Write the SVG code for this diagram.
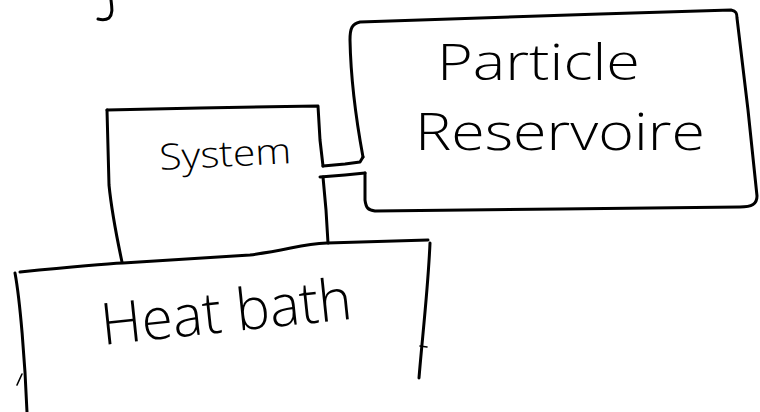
<svg xmlns="http://www.w3.org/2000/svg" width="760" height="412" viewBox="0 0 760 412">
  <style>
    .ink { fill: none; stroke: #000; stroke-width: 3; stroke-linecap: round; stroke-linejoin: round; }
    .fine { fill: none; stroke: #000; stroke-width: 1.6; stroke-linecap: round; }
    .hand { font-family: "Open Sans", "Liberation Sans", sans-serif; font-weight: 300; fill: #000; }
  </style>
  <rect width="760" height="412" fill="#fff"/>

  <!-- stray pen stroke at the top -->
  <path class="ink" d="M111,0 C112,8 113,14 109,18 C106,20 102,20 98,19"/>

  <g id="system">
    <path class="ink" d="M107,110 L200,108 L318,106 L320,140 L323,166"/>
    <path class="ink" d="M107,110 L109,185 Q112,215 122,262"/>
    <path class="ink" d="M323,177 L326,210 L328,243"/>
    <text class="hand" x="160" y="170" font-size="36" textLength="132" lengthAdjust="spacingAndGlyphs" transform="rotate(-3 160 170)">System</text>
  </g>

  <g id="particle-reservoir">
    <path class="ink" d="M363,157 C358,130 351,90 350,40 C350,28 352,24 360,22 L600,14 L731,10 C736,11 737,13 737,18 L748,110 L757,196 C757,204 752,207 740,207 L560,209 L375,211 C368,210 366,208 365,200 L365,173"/>
    <text class="hand" x="437" y="80" font-size="50" textLength="203" lengthAdjust="spacingAndGlyphs">Particle</text>
    <text class="hand" x="415" y="150" font-size="52" textLength="290" lengthAdjust="spacingAndGlyphs">Reservoire</text>
  </g>

  <g id="heat-bath">
    <path class="ink" d="M20,272 C60,268 100,264 123,263 L250,255 C290,250 300,244 327,243 L428,240"/>
    <path class="ink" d="M15,273 C20,300 25,360 27,412"/>
    <path class="fine" d="M17,385 L22,374"/>
    <path class="ink" d="M430,243 C428,290 422,340 419,378"/>
    <path class="fine" d="M420,346 L427,347"/>
    <text class="hand" x="103" y="345" font-size="58" textLength="252" lengthAdjust="spacingAndGlyphs" transform="rotate(-6 103 345)">Heat bath</text>
  </g>

  <g id="connectors">
    <path class="ink" d="M323,166 L345,164 L360,162 L363,157"/>
    <path class="ink" d="M320,177 L345,175 L365,173"/>
  </g>
</svg>
